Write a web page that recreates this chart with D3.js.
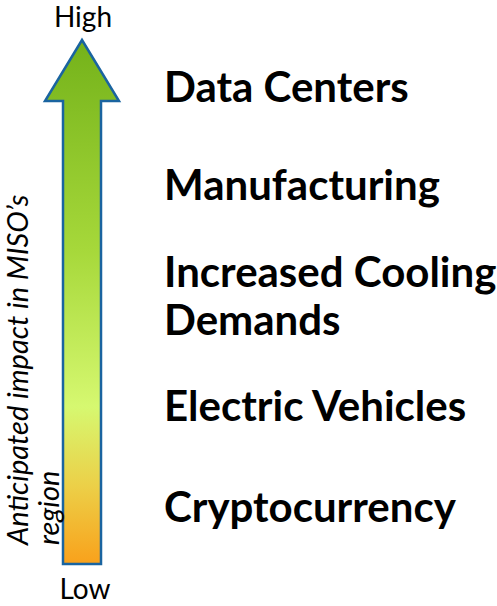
<!DOCTYPE html>
<html>
<head>
<meta charset="utf-8">
<script src="https://d3js.org/d3.v7.min.js"></script>
<style>
  body { margin: 0; background: #fff; }
</style>
</head>
<body>
<div id="my_dataviz"></div>
<script>
// drivers of load growth, ordered from highest to lowest anticipated impact
var drivers = [["Data Centers"], ["Manufacturing"], ["Increased Cooling", "Demands"], ["Electric Vehicles"], ["Cryptocurrency"]];
// relative position on the impact arrow (1 = low end label, 5 = top label)
var impactRank = [5, 4.07, 3.24, 1.96, 1];
var scaleEnds = ["Low", "High"];
var axisTitle = ["Anticipated impact in MISO\u2019s", "region"];
// gradient colours of the arrow, bottom (low) to top (high)
var gradStops = [0, 0.15, 0.3, 0.6, 1];
var gradColors = ["#f9a11b", "#ecd048", "#d6f870", "#a6d83a", "#74b21a"];

var width = 497, height = 606;

var svg = d3.select("#my_dataviz")
  .append("svg")
    .attr("width", width)
    .attr("height", height);

// y scale for impact: rank -> first-line baseline
var y = d3.scaleLinear()
  .domain([1, 5])
  .range([522, 102]);

// arrow geometry
var cx = 82, shaftHalf = 19, headHalf = 37;
var arrowTop = 40, headBase = 101, arrowBottom = 564;

var defs = svg.append("defs");
var grad = defs.append("linearGradient")
  .attr("id", "impactGrad")
  .attr("gradientUnits", "userSpaceOnUse")
  .attr("x1", 0).attr("x2", 0)
  .attr("y1", arrowBottom).attr("y2", arrowTop);
grad.selectAll("stop")
  .data(gradStops)
  .enter()
  .append("stop")
    .attr("offset", function(d) { return d; })
    .attr("stop-color", function(d, i) { return gradColors[i]; });

var arrowPts = [
  [cx, arrowTop],
  [cx + headHalf, headBase],
  [cx + shaftHalf, headBase],
  [cx + shaftHalf, arrowBottom],
  [cx - shaftHalf, arrowBottom],
  [cx - shaftHalf, headBase],
  [cx - headHalf, headBase]
];
svg.append("path")
  .attr("d", d3.line()(arrowPts) + "Z")
  .style("fill", "url(#impactGrad)")
  .style("stroke", "#1a64a0")
  .style("stroke-width", 2.5)
  .style("stroke-linejoin", "miter");

// High / Low labels
svg.append("text")
  .attr("x", cx + 1)
  .attr("y", 27)
  .attr("text-anchor", "middle")
  .style("font-family", "Lato")
  .style("font-size", "28px")
  .text(scaleEnds[1]);
svg.append("text")
  .attr("x", cx + 3)
  .attr("y", 599)
  .attr("text-anchor", "middle")
  .style("font-family", "Lato")
  .style("font-size", "28px")
  .text(scaleEnds[0]);

// rotated axis title
var title = svg.append("text")
  .attr("transform", "translate(27.5,545) rotate(-90)")
  .style("font-family", "Lato")
  .style("font-style", "italic")
  .style("font-size", "29px");
title.selectAll("tspan")
  .data(axisTitle)
  .enter()
  .append("tspan")
    .attr("x", 0)
    .attr("dy", function(d, i) { return i === 0 ? 0 : 31; })
    .text(function(d) { return d; });

// driver labels
var labels = svg.selectAll(".driver")
  .data(drivers)
  .enter()
  .append("text")
    .attr("class", "driver")
    .attr("x", 164)
    .attr("y", function(d, i) { return y(impactRank[i]); })
    .style("font-family", "Lato")
    .style("font-weight", "bold")
    .style("font-size", "42px")
    .style("fill", "#000");
labels.selectAll("tspan")
  .data(function(d) { return d; })
  .enter()
  .append("tspan")
    .attr("x", 164)
    .attr("dy", function(d, i) { return i === 0 ? 0 : 48; })
    .text(function(d) { return d; });
</script>
</body>
</html>
